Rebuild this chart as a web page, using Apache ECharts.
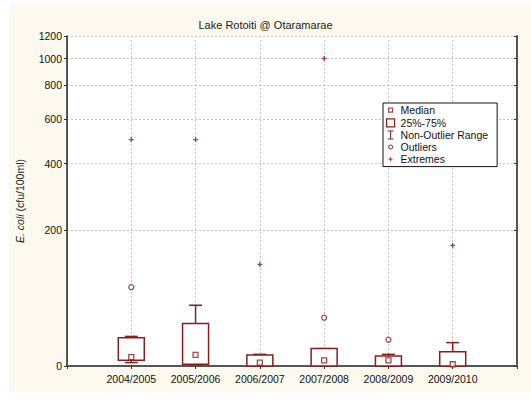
<!DOCTYPE html>
<html>
<head>
<meta charset="utf-8">
<title>Lake Rotoiti @ Otaramarae</title>
<script src="https://cdn.jsdelivr.net/npm/echarts@6/dist/echarts.min.js"></script>
<style>
	html, body { margin: 0; padding: 0; background: #fff; }
	#bg { position: absolute; left: 9px; top: 5px; width: 522px; height: 387px; background: #fdf9ee; }
	#chart { position: absolute; left: 0; top: 0; width: 531px; height: 402px; }
</style>
</head>
<body>
<div id="bg"></div>
<div id="chart"></div>
<script>
	// seasons on the x axis
	const years = ["2004/2005", "2005/2006", "2006/2007", "2007/2008", "2008/2009", "2009/2010"];
	// box (25%-75%), median and non-outlier range, E. coli cfu/100ml
	const q1 = [5, 1.5, 0, 0, 0, 0];
	const q3 = [27, 43, 10, 16, 9, 13];
	const median = [8, 10, 3, 5, 5, 1.5];
	const whiskLow = [3, 1, 0, 0, 0, 0];
	const whiskHigh = [28.5, 66, 10.5, 16, 10.5, 22];
	// [season index, value]
	const outliers = [[0, 92], [3, 50], [4, 25]];
	const extremes = [[0, 500], [1, 500], [2, 130], [3, 1000], [5, 167]];
	const yTicks = [0, 200, 400, 600, 800, 1000, 1200];

	const RED = "#8c1c1c";
	const FONT = "Liberation Sans, Arial, sans-serif";

	// the value axis is stretched near zero: position ~ ln(1 + v / 118)
	const OFFSET = 118;
	const tr = (v) => Math.log(1 + v / OFFSET);
	const untr = (p) => Math.round(OFFSET * (Math.exp(p) - 1));

	// blank slots at both ends so the seasons sit on the inner grid lines
	const xCats = [""].concat(years, [" "]);

	const boxData = years.map((y, i) => [i + 1, tr(q1[i]), tr(q3[i])]);
	const whiskData = years.map((y, i) => [i + 1, tr(whiskLow[i]), tr(q1[i]), tr(q3[i]), tr(whiskHigh[i])]);
	const medianData = years.map((y, i) => [i + 1, tr(median[i])]);
	const outlierData = outliers.map((d) => [d[0] + 1, tr(d[1])]);
	const extremeData = extremes.map((d) => [d[0] + 1, tr(d[1])]);

	function renderBox(params, api) {
		const x = api.value(0);
		const lo = api.coord([x, api.value(1)]);
		const hi = api.coord([x, api.value(2)]);
		const w = 26;
		return {
			type: "rect",
			shape: { x: lo[0] - w / 2, y: hi[1], width: w, height: lo[1] - hi[1] },
			style: { fill: "#fff", stroke: RED, lineWidth: 1.5 },
		};
	}

	function renderWhisker(params, api) {
		const x = api.value(0);
		const p = [1, 2, 3, 4].map((d) => api.coord([x, api.value(d)]));
		const cx = p[0][0],
			cap = 6.5;
		const line = (x1, y1, x2, y2) => ({
			type: "line",
			shape: { x1, y1, x2, y2 },
			style: { stroke: RED, lineWidth: 1.5 },
		});
		return {
			type: "group",
			children: [
				line(cx, p[3][1], cx, p[2][1]),
				line(cx - cap, p[3][1], cx + cap, p[3][1]),
				line(cx, p[0][1], cx, p[1][1]),
				line(cx - cap, p[0][1], cx + cap, p[0][1]),
			],
		};
	}

	const gridDash = { color: "#c4c4c4", type: [2, 2], width: 1 };
	const PLUS = "path://M2,0h1.4v5.4h-1.4z M0,2h5.4v1.4h-5.4z";

	const chart = echarts.init(document.getElementById("chart"), null, { renderer: "svg" });
	chart.setOption({
		animation: false,
		textStyle: { fontFamily: FONT },
		title: {
			text: "Lake Rotoiti @ Otaramarae",
			left: "center",
			top: 14,
			textStyle: { fontSize: 11, fontWeight: "normal", color: "#222", fontFamily: FONT },
		},
		legend: {
			orient: "vertical",
			left: 383,
			top: 103,
			itemWidth: 10,
			itemHeight: 11,
			itemGap: 0.5,
			padding: [1, 9, 2, 2],
			borderColor: "#111",
			borderWidth: 1,
			backgroundColor: "#fff",
			selectedMode: false,
			textStyle: { fontSize: 10.5, color: "#111", lineHeight: 11, fontFamily: FONT },
			data: [
				{ name: "Median", icon: "path://M0,0M10,11M3,3.5h4v4h-4z", itemStyle: { color: "#fff", borderColor: RED, borderWidth: 1.2 } },
				{ name: "25%-75%", icon: "path://M0,0M10,11M1,1.5h8v8h-8z", itemStyle: { color: "#fff", borderColor: RED, borderWidth: 1.2 } },
				{ name: "Non-Outlier Range", icon: "path://M0,0M10,11M2,1h6v1h-6z M4.5,2h1v7h-1z M2,9h6v1h-6z", itemStyle: { color: RED, borderWidth: 0 } },
				{ name: "Outliers", icon: "path://M0,0M10,11M5,3.5a2,2 0 1,0 0.01,0z", itemStyle: { color: "#fff", borderColor: RED, borderWidth: 1.2 } },
				{ name: "Extremes", icon: "path://M0,0M10,11M3,5h4v1.2h-4z M4.4,3.6h1.2v4h-1.2z", itemStyle: { color: RED, borderWidth: 0 } },
			],
		},
		grid: { left: 67, right: 14, top: 36, bottom: 36, show: true, backgroundColor: "#fff", borderWidth: 0 },
		xAxis: [
			{
				type: "category",
				data: xCats,
				boundaryGap: false,
				axisLine: { lineStyle: { color: "#444", width: 2 } },
				axisTick: { show: true, interval: 0, length: 3, lineStyle: { color: "#333" } },
				axisLabel: { interval: 0, margin: 7, fontSize: 10.5, color: "#111" },
				splitLine: { show: true, interval: 0, lineStyle: gridDash },
			},
			{
				type: "category",
				data: xCats,
				boundaryGap: false,
				position: "top",
				axisLine: { lineStyle: { color: "#555", width: 2 } },
				axisTick: { show: true, inside: true, interval: 0, length: 3, lineStyle: { color: "#333" } },
				axisLabel: { show: false },
				splitLine: { show: false },
			},
		],
		yAxis: [
			{
				type: "value",
				min: 0,
				max: tr(1200),
				name: "{i|E. coli} (cfu/100ml)",
				nameLocation: "middle",
				nameGap: 42,
				nameTextStyle: {
					fontSize: 10.5,
					color: "#222",
					rich: { i: { fontStyle: "italic", fontSize: 10.5, color: "#222" } },
				},
				axisLine: { show: true, lineStyle: { color: "#222", width: 1.5 } },
				axisTick: { show: true, length: 3, customValues: yTicks.map(tr), lineStyle: { color: "#333" } },
				axisLabel: { customValues: yTicks.map(tr), formatter: (v) => String(untr(v)), margin: 5, fontSize: 10.5, color: "#111" },
				splitLine: { show: true, lineStyle: gridDash },
			},
			{
				type: "value",
				min: 0,
				max: tr(1200),
				position: "right",
				axisLine: { show: true, lineStyle: { color: "#555", width: 2 } },
				axisTick: { show: true, inside: true, length: 3, customValues: yTicks.map(tr), lineStyle: { color: "#333" } },
				axisLabel: { show: false },
				splitLine: { show: false },
			},
		],
		series: [
			{
				name: "Non-Outlier Range",
				type: "custom",
				renderItem: renderWhisker,
				encode: { x: 0, y: [1, 2, 3, 4] },
				itemStyle: { color: RED },
				data: whiskData,
			},
			{
				name: "25%-75%",
				type: "custom",
				renderItem: renderBox,
				encode: { x: 0, y: [1, 2] },
				itemStyle: { color: RED },
				data: boxData,
			},
			{
				name: "Median",
				type: "scatter",
				symbol: "rect",
				symbolSize: 5,
				itemStyle: { color: "#fff", borderColor: RED, borderWidth: 1.3 },
				data: medianData,
			},
			{
				name: "Outliers",
				type: "scatter",
				symbol: "circle",
				symbolSize: 5,
				itemStyle: { color: "#fff", borderColor: RED, borderWidth: 1.3 },
				data: outlierData,
			},
			{
				name: "Extremes",
				type: "scatter",
				symbol: PLUS,
				symbolSize: 5,
				itemStyle: { color: RED },
				data: extremeData,
			},
		],
	});
</script>
</body>
</html>
